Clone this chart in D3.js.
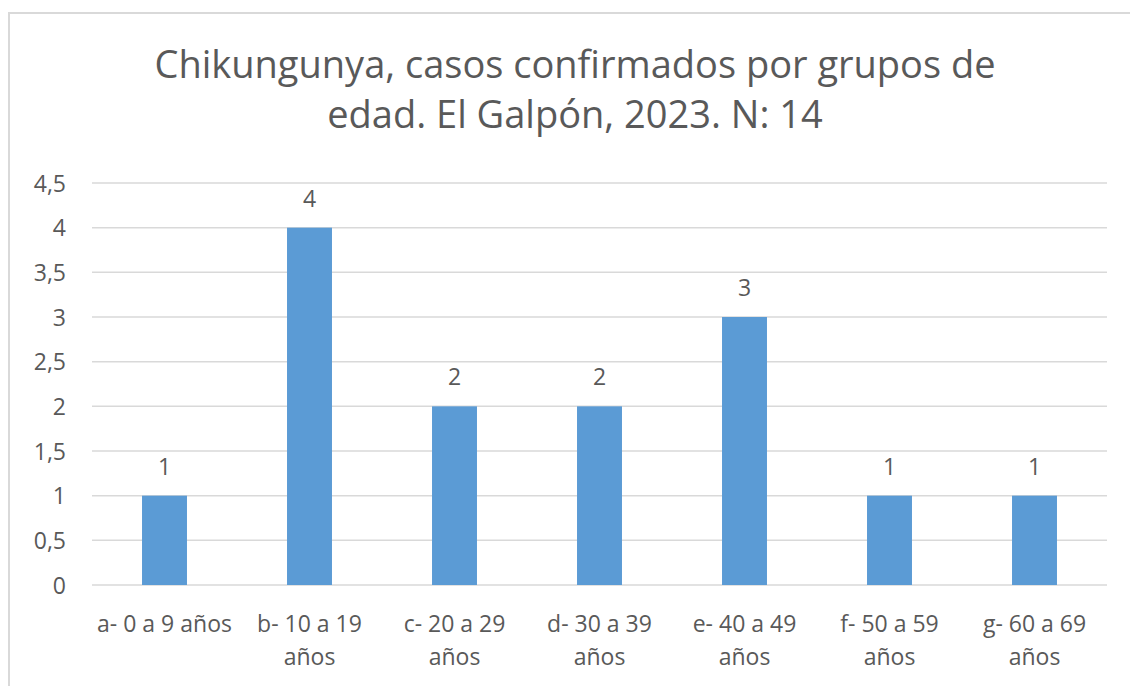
<!DOCTYPE html>
<html>
<head>
<meta charset="utf-8">
<script src="https://cdn.jsdelivr.net/npm/d3@7"></script>
<style>
  html, body { margin: 0; padding: 0; background: #fff; }
  #app { width: 1130px; height: 686px; overflow: hidden; }
  text { font-family: "Open Sans", "Noto Sans", sans-serif; fill: #595959; }
</style>
</head>
<body>
<div id="app"></div>
<script>
// chart data
const titleLines = ["Chikungunya, casos confirmados por grupos de", "edad. El Galpón, 2023. N: 14"];
const categories = ["a- 0 a 9 años", "b- 10 a 19 años", "c- 20 a 29 años", "d- 30 a 39 años",
                    "e- 40 a 49 años", "f- 50 a 59 años", "g- 60 a 69 años"];
const casos = [1, 4, 2, 2, 3, 1, 1];
const yTicks = [0, 0.5, 1, 1.5, 2, 2.5, 3, 3.5, 4, 4.5];

const W = 1130, H = 686;
// m = margin of the plot area
const m = { t: 183, r: 23, b: 101, l: 92 };
const w = W - m.l - m.r;
const h = H - m.t - m.b;
const lblSize = "23px";

const svg = d3.select("#app").append("svg")
    .attr("width", W).attr("height", H);

// chart frame (cut at right/bottom like the screenshot)
svg.append("path")
    .attr("d", "M9,686 V13 H1130")
    .attr("fill", "none").attr("stroke", "#d9d9d9").attr("stroke-width", 2);

// title
svg.append("g").selectAll("text")
    .data(titleLines).enter()
    .append("text")
    .attr("x", 575)
    .attr("y", (d, i) => 78 + i * 50)
    .attr("text-anchor", "middle")
    .attr("font-size", "38px")
    .text(d => d);

const x = d3.scaleBand().domain(categories).range([m.l, m.l + w]).paddingInner(0.69).paddingOuter(0.345);
const y = d3.scaleLinear().domain([0, 4.5]).range([m.t + h, m.t]);
const fmt = d => String(d).replace(".", ",");

// gridlines
svg.append("g").selectAll("line")
    .data(yTicks).enter()
    .append("line")
    .attr("x1", m.l).attr("x2", m.l + w)
    .attr("y1", d => y(d)).attr("y2", d => y(d))
    .attr("stroke", "#d9d9d9").attr("stroke-width", 1.5);

// y axis
const yAxis = svg.append("g")
    .attr("transform", "translate(" + (m.l - 26) + ",0)")
    .call(d3.axisLeft(y).tickValues(yTicks).tickFormat(fmt).tickSize(0).tickPadding(0));
yAxis.select(".domain").remove();
yAxis.selectAll("text").attr("font-size", lblSize).attr("font-family", null).attr("fill", null).attr("dy", "0.35em");

// bars
svg.append("g").selectAll("rect")
    .data(casos).enter()
    .append("rect")
    .attr("x", (d, i) => x(categories[i]))
    .attr("y", d => y(d))
    .attr("width", x.bandwidth())
    .attr("height", d => y(0) - y(d))
    .attr("fill", "#5b9bd5");

// data labels
svg.append("g").selectAll("text")
    .data(casos).enter()
    .append("text")
    .attr("x", (d, i) => x(categories[i]) + x.bandwidth() / 2)
    .attr("y", d => y(d) - 21)
    .attr("text-anchor", "middle")
    .attr("font-size", lblSize)
    .text(d => fmt(d));

// x axis
const xAxis = svg.append("g")
    .attr("transform", "translate(0," + (m.t + h) + ")")
    .call(d3.axisBottom(x).tickSize(0).tickPadding(0));
xAxis.select(".domain").remove();
xAxis.selectAll(".tick text").remove();
xAxis.selectAll(".tick").append("text")
    .attr("text-anchor", "middle")
    .attr("font-size", lblSize)
    .each(function (d) {
        // wrap like Excel: keep "años" on the second line when it doesn't fit
        const t = d3.select(this);
        const lines = d.length > 14 ? [d.slice(0, d.lastIndexOf(" ")), d.slice(d.lastIndexOf(" ") + 1)] : [d];
        lines.forEach((ln, i) => t.append("tspan").attr("x", 0).attr("y", 47 + i * 33).text(ln));
    });
</script>
</body>
</html>
